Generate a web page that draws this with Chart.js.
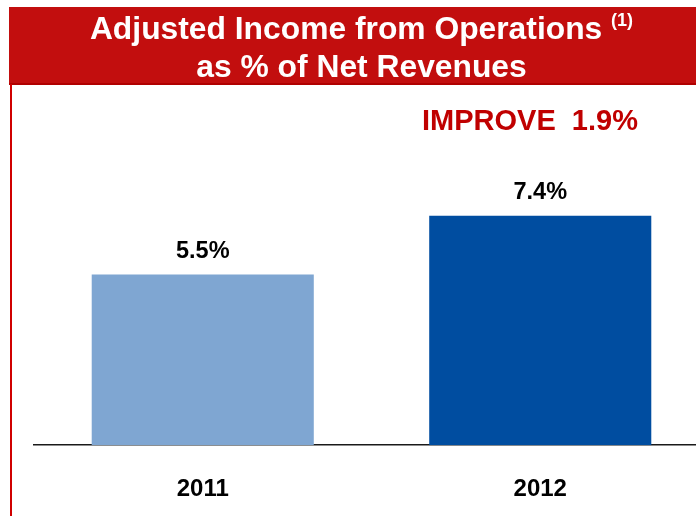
<!DOCTYPE html>
<html>
<head>
<meta charset="utf-8">
<script src="https://cdn.jsdelivr.net/npm/chart.js@4.4.1/dist/chart.umd.min.js"></script>
<style>
  html, body { margin: 0; padding: 0; width: 696px; height: 516px; overflow: hidden; background: #fff; }
  #wrap { position: absolute; left: 0; top: 0; width: 710px; height: 534px; }
  #header {
    position: absolute; left: 9px; top: 7px; width: 687px; height: 78px;
    background: #C20E0E; border-bottom: 2px solid #B00000; box-sizing: border-box;
    z-index: 2;
  }
  .hline {
    position: absolute; left: 9px; width: 705px; text-align: center;
    color: #fff; font-family: "Liberation Sans", Arial, sans-serif; font-weight: bold;
    font-size: 31.8px; line-height: 32px; z-index: 3; white-space: nowrap;
  }
  .hline sup { font-size: 18px; vertical-align: 0; position: relative; top: -13px; }
  #leftrule { position: absolute; left: 10px; top: 84px; width: 2px; height: 432px; background: #D00000; z-index: 2; }
  #improve {
    position: absolute; left: 380px; top: 104px; width: 300px; text-align: center;
    color: #C00000; font-family: "Liberation Sans", Arial, sans-serif; font-weight: bold; font-size: 29px;
    z-index: 2;
  }
</style>
</head>
<body>
<div id="wrap"><canvas id="c" width="710" height="534"></canvas></div>
<div id="header"></div>
<div class="hline" style="top:12px">Adjusted Income from Operations <sup>(1)</sup></div>
<div class="hline" style="top:50px">as % of Net Revenues</div>
<div id="leftrule"></div>
<div id="improve">IMPROVE&nbsp; 1.9%</div>
<script>
const years = ['2011', '2012'];
const marginPct = [5.5, 7.4];
const barColors = ['#7FA6D2', '#004DA0'];

// value labels above each bar
const valueLabels = {
  id: 'valueLabels',
  afterDatasetsDraw(chart) {
    const ctx = chart.ctx;
    const meta = chart.getDatasetMeta(0);
    ctx.save();
    ctx.font = 'bold 23.5px "Liberation Sans", Arial, sans-serif';
    ctx.fillStyle = '#000';
    ctx.textAlign = 'center';
    ctx.textBaseline = 'alphabetic';
    meta.data.forEach((bar, i) => {
      ctx.fillText(marginPct[i].toFixed(1) + '%', bar.x, bar.y - 17);
    });
    ctx.restore();
  }
};

new Chart(document.getElementById('c'), {
  type: 'bar',
  data: {
    labels: years,
    datasets: [{
      data: marginPct,
      backgroundColor: barColors,
      borderWidth: 0,
      barPercentage: 0.658,
      categoryPercentage: 1.0
    }]
  },
  options: {
    responsive: false,
    animation: false,
    layout: { padding: { left: 34, right: 1, top: 135, bottom: 0 } },
    plugins: { legend: { display: false }, tooltip: { enabled: false }, title: { display: false } },
    scales: {
      x: {
        offset: true,
        grid: { display: false, drawTicks: false },
        border: { display: true, color: '#1a1a1a', width: 1.5 },
        ticks: {
          color: '#000',
          padding: 30,
          font: { family: '"Liberation Sans", Arial, sans-serif', weight: 'bold', size: 24 }
        }
      },
      y: { display: false, min: 0, max: 10 }
    }
  },
  plugins: [valueLabels]
});
</script>
</body>
</html>
